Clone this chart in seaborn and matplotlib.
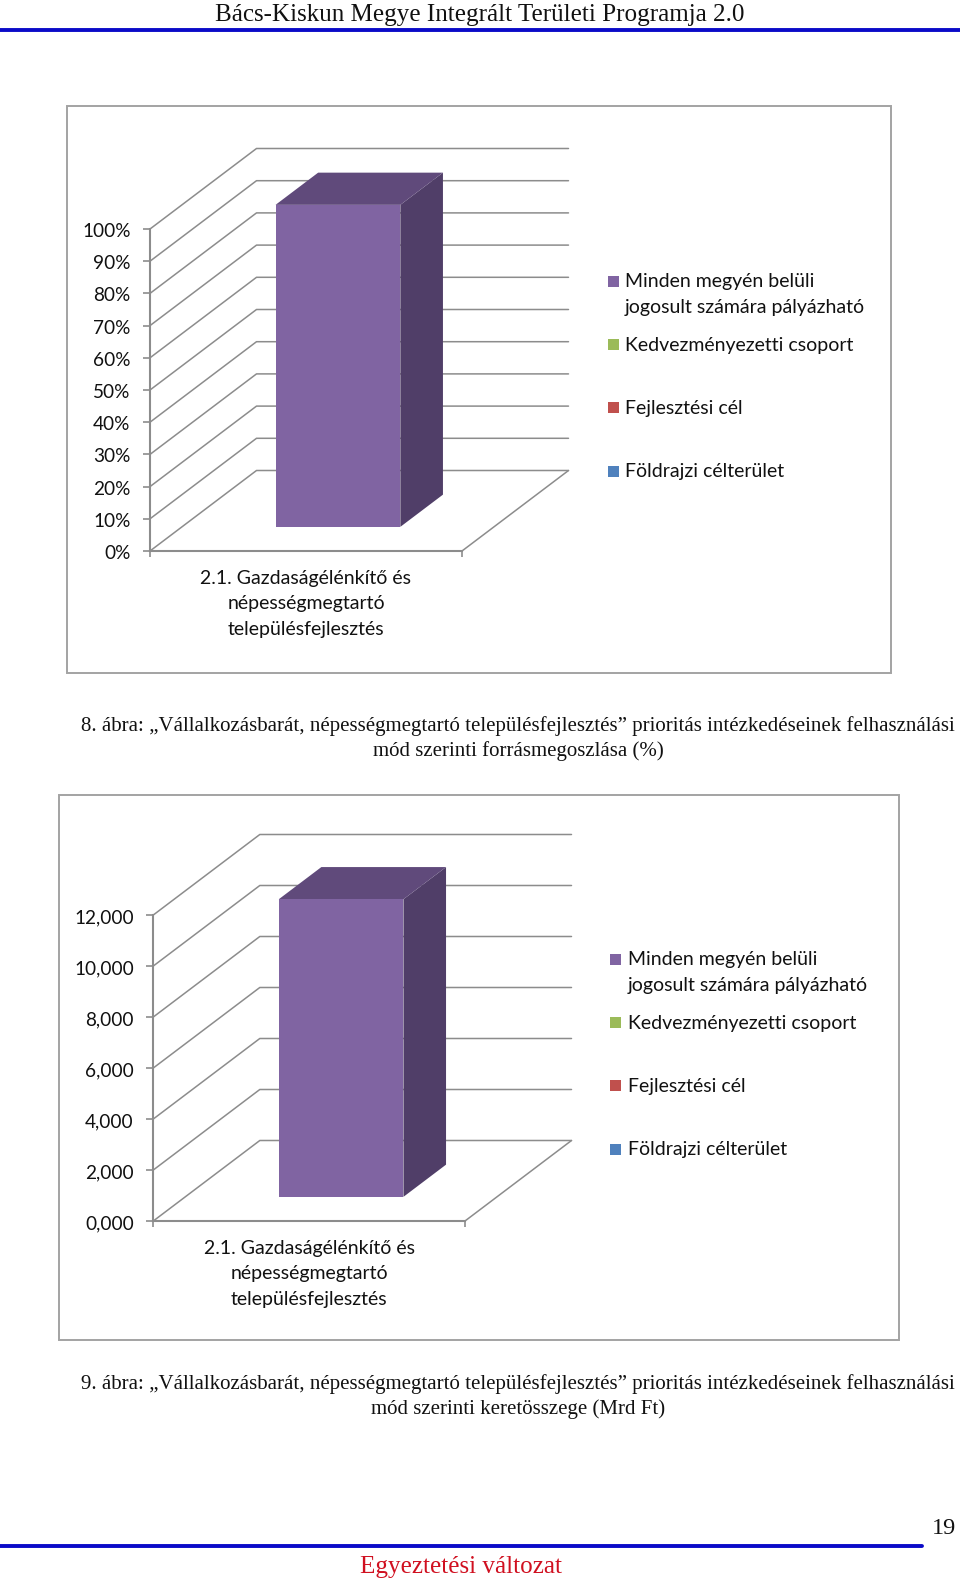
import numpy as np
import pandas as pd
import matplotlib
matplotlib.use("Agg")
import matplotlib.pyplot as plt
import seaborn as sns

from matplotlib.lines import Line2D
from matplotlib.patches import Polygon, Rectangle
from matplotlib.transforms import Affine2D, IdentityTransform

# ─────────────────────────────────────────────
# Data
# ─────────────────────────────────────────────
CATEGORY = "2.1. Gazdaságélénkítő és\nnépességmegtartó\ntelepülésfejlesztés"

LEGEND_LABELS = [
    "Minden megyén belüli\njogosult számára pályázható",
    "Kedvezményezetti csoport",
    "Fejlesztési cél",
    "Földrajzi célterület",
]
LEGEND_COLORS = ["#8064A2", "#9BBB59", "#C0504D", "#4F81BD"]

SHARE_VALUE = 100
SHARE_TICKS = [0, 10, 20, 30, 40, 50, 60, 70, 80, 90, 100]
SHARE_LABELS = ["0%", "10%", "20%", "30%", "40%", "50%", "60%", "70%", "80%", "90%", "100%"]

BUDGET_VALUE = 11.67
BUDGET_TICKS = [0, 2, 4, 6, 8, 10, 12]
BUDGET_LABELS = ["0,000", "2,000", "4,000", "6,000", "8,000", "10,000", "12,000"]

CAPTION_8 = ("8. ábra: „Vállalkozásbarát, népességmegtartó településfejlesztés” "
             "prioritás intézkedéseinek felhasználási")
CAPTION_8B = "mód szerinti forrásmegoszlása (%)"
CAPTION_9 = ("9. ábra: „Vállalkozásbarát, népességmegtartó településfejlesztés” "
             "prioritás intézkedéseinek felhasználási")
CAPTION_9B = "mód szerinti keretösszege (Mrd Ft)"

# ─────────────────────────────────────────────
W, H = 960, 1584
GREY = "#8C8C8C"
INK = "#111111"
FRONT, TOP, SIDE = "#8064A2", "#604A7B", "#503E68"
DEPTH = (106.5, 80.5)      # px, floor depth of the fake 3D box
BAR_NEAR, BAR_FAR = 0.30, 0.70
CHART_FONT = 14.0
TICK_FONT = 13.7


def project(ax, x, y, k=0.0):
    """Data point pushed k of the way back into the fake 3D box, in pixels."""
    px, py = ax.transData.transform((x, y))
    return px + k * DEPTH[0], py + k * DEPTH[1]


def draw_chart(fig, page, box, floor, value, ticks, labels, legend_x, legend_y):
    x0, y_top, x1, y_zero = floor
    ax = fig.add_axes([x0 / W, 1 - y_zero / H, (x1 - x0) / W, (y_zero - y_top) / H], zorder=2)
    ax.patch.set_alpha(0)

    df = pd.DataFrame({"cat": [CATEGORY], "val": [value]})
    sns.barplot(data=df, x="cat", y="val", ax=ax, color=FRONT, saturation=1, width=0.4,
                edgecolor="none", linewidth=0)
    ax.set_ylim(ticks[0], ticks[-1])
    ax.set_xlim(-0.5, 0.5)
    ax.set(xlabel="", ylabel="")
    ax.set_yticks(ticks, labels)

    for name in ["top", "right"]:
        ax.spines[name].set_visible(False)
    for name in ["left", "bottom"]:
        ax.spines[name].set_color(GREY)
        ax.spines[name].set_linewidth(1.5)
    ax.tick_params(axis="y", length=5, width=1.2, color=GREY, pad=9.0, labelsize=TICK_FONT, labelcolor=INK, left=True)
    ax.tick_params(axis="x", length=0, pad=13.5, labelsize=CHART_FONT, labelcolor=INK, bottom=True)
    ax.set_xticks([-0.5, 0.5], minor=True)
    ax.tick_params(axis="x", which="minor", length=4, width=1.2, color=GREY, bottom=True)
    plt.setp(ax.get_xticklabels(), linespacing=1.62)
    for lbl in ax.get_yticklabels():
        lbl.set_transform(lbl.get_transform() + Affine2D().translate(0, -1))

    # Back wall + floor
    px = IdentityTransform()
    for v in ticks:
        pts = [project(ax, -0.5, v), project(ax, -0.5, v, 1), project(ax, 0.5, v, 1)]
        ax.add_artist(Line2D(*zip(*pts), color=GREY, lw=1.1, transform=px, clip_on=False, zorder=1))
    pts = [project(ax, 0.5, ticks[0], 1), project(ax, 0.5, ticks[0])]
    ax.add_artist(Line2D(*zip(*pts), color=GREY, lw=1.1, transform=px, clip_on=False, zorder=1))

    # Bar: seaborn draws the front face, then it is slid into the box and extruded
    bar = ax.patches[0]
    bar.set_transform(ax.transData + Affine2D().translate(BAR_NEAR * DEPTH[0], BAR_NEAR * DEPTH[1]))
    bar.set_clip_on(False)
    bar.set_zorder(4)
    b0, b1 = bar.get_x(), bar.get_x() + bar.get_width()
    side = [project(ax, b1, 0, BAR_NEAR), project(ax, b1, 0, BAR_FAR),
            project(ax, b1, value, BAR_FAR), project(ax, b1, value, BAR_NEAR)]
    top = [project(ax, b0, value, BAR_NEAR), project(ax, b1, value, BAR_NEAR),
           project(ax, b1, value, BAR_FAR), project(ax, b0, value, BAR_FAR)]
    ax.add_patch(Polygon(side, fc=SIDE, ec="none", transform=px, clip_on=False, zorder=3))
    ax.add_patch(Polygon(top, fc=TOP, ec="none", transform=px, clip_on=False, zorder=3))

    # Frame
    fx0, fy0, fx1, fy1 = box
    page.add_patch(Rectangle((fx0, fy0), fx1 - fx0, fy1 - fy0, fc="white", ec="#A3A3A3", lw=1.4))

    # Legend: two-line entry first, then even 63 px steps
    for color, label, y in zip(LEGEND_COLORS, LEGEND_LABELS, legend_y):
        page.add_patch(Rectangle((legend_x, y - 5.5), 11, 11, fc=color, ec="none"))
        lines = label.split("\n")
        page.text(legend_x + 17.5, y + 1, lines[0], fontsize=CHART_FONT, va="center", ha="left", color=INK)
        if len(lines) > 1:
            page.text(legend_x + 17.5, y + 26.7, lines[1], fontsize=CHART_FONT, va="center", ha="left", color=INK)


def main():
    sns.set_theme(style="white")
    plt.rcParams["font.family"] = ["Lato", "DejaVu Sans"]

    fig = plt.figure(figsize=(W / 100, H / 100), dpi=100, facecolor="white")
    page = fig.add_axes([0, 0, 1, 1], zorder=1)
    page.set_xlim(0, W)
    page.set_ylim(H, 0)
    page.axis("off")

    draw_chart(fig, page, (66.5, 105.5, 890.5, 672.5), (150, 229, 462, 551),
               SHARE_VALUE, SHARE_TICKS, SHARE_LABELS, 607.5, [281, 344.7, 407.7, 471])
    draw_chart(fig, page, (58.5, 795, 898.5, 1339.5), (153.3, 915, 465, 1221),
               BUDGET_VALUE, BUDGET_TICKS, BUDGET_LABELS, 610, [959, 1022.6, 1085.5, 1149])

    # Page furniture
    serif = ["Liberation Serif", "DejaVu Serif"]
    page.add_line(Line2D([0, W], [30.3, 30.3], color="#0A0AC8", lw=2.8))
    page.add_line(Line2D([0, 921.5], [1546, 1546], color="#0A0AC8", lw=2.8))
    page.text(480, 14.5, "Bács-Kiskun Megye Integrált Területi Programja 2.0", family=serif,
              fontsize=18.1, ha="center", va="center", color=INK)
    page.text(944, 1528, "19", family=serif, fontsize=17.5, ha="center", va="center", color=INK)
    page.text(461, 1567, "Egyeztetési változat", family=serif, fontsize=18.05, ha="center", va="center", color="#D01020")

    for first, second, y in [(CAPTION_8, CAPTION_8B, 726.5), (CAPTION_9, CAPTION_9B, 1384.5)]:
        page.text(81, y, first, family=serif, fontsize=15.05, ha="left", va="center", color=INK)
        page.text(518, y + 24.5, second, family=serif, fontsize=15.05, ha="center", va="center", color=INK)

    fig.savefig("out.png", dpi=100)
    plt.close(fig)


if __name__ == "__main__":
    main()
